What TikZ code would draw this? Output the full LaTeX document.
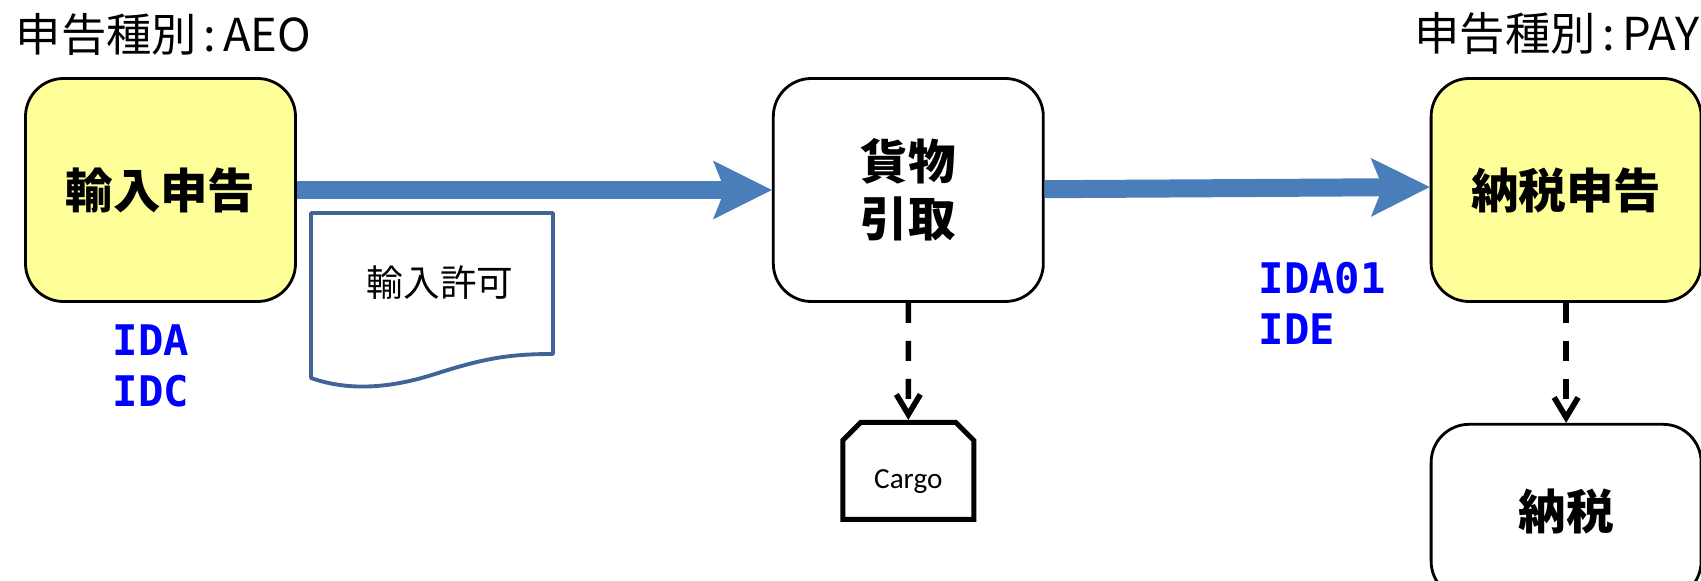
\documentclass[tikz,border=0pt]{standalone}
\usepackage{fontspec}
\setmainfont{Noto Sans CJK JP}
\newfontfamily\cargofont{Carlito}
\newfontfamily\codefont{DejaVu Sans Mono}
\usetikzlibrary{positioning, arrows.meta, shapes.misc}
\definecolor{declyellow}{HTML}{FFFF99}
\definecolor{flowblue}{HTML}{4A7EBB}
\definecolor{docblue}{HTML}{416496}

\begin{document}
\begin{tikzpicture}[node distance={4.75cm},
  main/.style = {draw, line width=0.8pt, rounded corners=0.38cm, minimum width=2.7cm, minimum height=2.23cm, inner sep=0pt, align=center, font=\fontsize{13.5}{16.2}\selectfont\bfseries},
  cargobox/.style = {draw, line width=1.4pt, chamfered rectangle, chamfered rectangle corners={north west, north east}, chamfered rectangle sep=0.09cm, minimum width=1.31cm, minimum height=0.97cm, inner sep=0pt, text depth=0pt, text height=0.644em+0.12cm, font=\cargofont\fontsize{8.3}{10}\selectfont},
  flow/.style = {draw=flowblue, line width=0.18cm, -{Stealth[length=5.9mm, width=5.9mm, inset=1.2mm, line width=0pt]}},
  link/.style = {line width=1.6pt, dash pattern=on 0.2cm off 0.18cm, -{Straight Barb[length=2mm, width=2.4mm]}},
  code/.style = {text=blue, inner sep=0pt, anchor=west, align=left, font=\codefont\fontsize{12}{14.5}\selectfont\bfseries},
  title/.style = {inner sep=0pt, font=\fontsize{12.9}{15}\selectfont}]
		\useasboundingbox (0,0) rectangle (17.01,5.80);
		\node[title, anchor=west] (aeo) at (0.15,5.46) {申告種別\hspace{0.15em}:\hspace{0.15em}AEO};
		\node[title, anchor=east] (paytype) at (17.0,5.47) {申告種別\hspace{0.15em}:\hspace{0.15em}PAY};
		\node[main, fill=declyellow] (decl) at (1.605,3.90) {輸入申告};
		\node[main] (goods) [right=of decl] {貨物\\引取};
		\node[main, fill=declyellow] (tax) [right=3.85cm of goods] {納税申告};
		\node[main, minimum height=1.75cm] (pay) [below=1.2cm of tax] {納税};
		\node[cargobox] (cargo) [below=1.17cm of goods] {Cargo};
		\node[font=\fontsize{10.4}{12}\selectfont] (permit) at (4.40,2.97) {輸入許可};
		\draw[docblue, line width=1.1pt, line join=round] (3.11,2.02) -- (3.11,3.67) -- (5.53,3.67) -- (5.53,2.26) .. controls (5.1,2.26) and (4.85,2.22) .. (4.35,2.06) .. controls (3.85,1.90) and (3.45,1.90) .. (3.11,2.02) -- cycle;
		\node[code] (aeocode) at (1.12,2.145) {IDA\\IDC};
		\node[code] (paycode) at (12.58,2.77) {IDA01\\IDE};
		\draw[flow] (decl) -- (goods);
		\draw[flow] (goods) -- ([yshift=0.03cm]tax.west);
		\draw[link] (goods) -- (cargo);
		\draw[link] (tax) -- (pay);
\end{tikzpicture}
\end{document}
